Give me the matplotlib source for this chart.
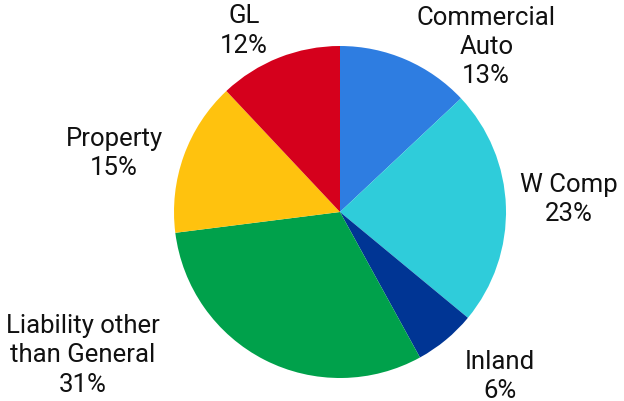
import numpy as np
import matplotlib.pyplot as plt

plt.rcParams['font.family'] = ['Roboto', 'DejaVu Sans']

categorias = ['Commercial\nAuto', 'W Comp', 'Inland', 'Liability other\nthan General', 'Property', 'GL']
valores = [13, 23, 6, 31, 15, 12]
cores = ['#2E7DE1', '#2FCCDA', '#003594', '#00A14B', '#FFC20E', '#D5001C']

fig = plt.figure(figsize=(6.24, 4.02), dpi=100)
ax = fig.add_axes([174 / 624, 23 / 402, 332 / 624, 332 / 402])

wedges, _ = ax.pie(valores, colors=cores, startangle=90, counterclock=False,
                   radius=1, wedgeprops=dict(linewidth=0))

# posicao dos rotulos (raio, angulo) em torno do centro
pos_rotulos = [(1.332, 48.6), (1.382, 3.3), (1.38, -45.6), (1.77, -151.0), (1.407, 165.2), (1.24, 117.8)]
for nome, v, (r, a) in zip(categorias, valores, pos_rotulos):
    x = r * np.cos(np.radians(a))
    y = r * np.sin(np.radians(a))
    ax.text(x, y, f'{nome}\n{v}%', ha='center', va='center', fontsize=18.5,
            linespacing=1.28, color='#111111', clip_on=False)

ax.set_xlim(-1, 1)
ax.set_ylim(-1, 1)
ax.set_aspect('equal')
ax.axis('off')

plt.savefig('out.png', dpi=100)
